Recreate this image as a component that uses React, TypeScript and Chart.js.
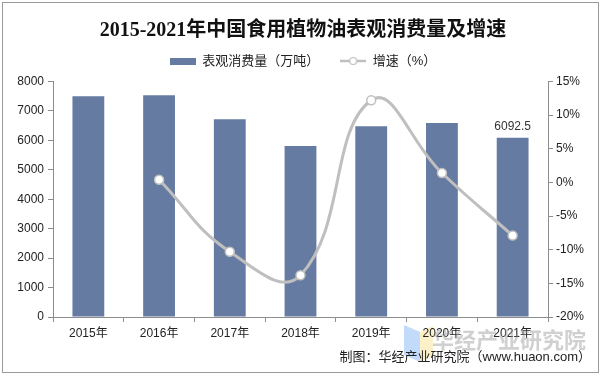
import React, { useEffect, useRef } from "react";
import { Chart, registerables } from "chart.js";

Chart.register(...registerables);

const categories = ["2015年", "2016年", "2017年", "2018年", "2019年", "2020年", "2021年"];
const consumption = [7500, 7530, 6720, 5810, 6480, 6590, 6092.5];
const growth = [null, 0.4, -10.3, -13.8, 12.2, 1.4, -7.9];
const leftAxis = { min: 0, max: 8000, step: 1000 };
const rightAxis = { min: -20, max: 15, step: 5 };
const titleText = "2015-2021年中国食用植物油表观消费量及增速";
const barLabel = "表观消费量（万吨）";
const lineLabel = "增速（%）";
const sourceText = "制图：华经产业研究院（www.huaon.com）";
const watermarkText = "华经产业研究院";

const BAR_COLOR = "#667ba1";
const LINE_COLOR = "#bfbfbf";
const AXIS_COLOR = "#8c8c8c";
const FONT = "'Liberation Sans', Arial, 'Noto Sans CJK SC', sans-serif";

function makeBarIcon() {
  const c = document.createElement("canvas");
  c.width = 26;
  c.height = 7;
  const ctx = c.getContext("2d")!;
  ctx.fillStyle = BAR_COLOR;
  ctx.fillRect(0, 0, 26, 7);
  return c;
}

function makeLineIcon() {
  const c = document.createElement("canvas");
  c.width = 26;
  c.height = 10;
  const ctx = c.getContext("2d")!;
  ctx.strokeStyle = LINE_COLOR;
  ctx.lineWidth = 2.5;
  ctx.beginPath();
  ctx.moveTo(0, 5);
  ctx.lineTo(26, 5);
  ctx.stroke();
  ctx.beginPath();
  ctx.arc(13, 5, 3.5, 0, Math.PI * 2);
  ctx.fillStyle = "#fff";
  ctx.fill();
  ctx.lineWidth = 1.2;
  ctx.stroke();
  return c;
}

const framePlugin = {
  id: "frame",
  beforeDraw(chart: any) {
    const ctx = chart.ctx;
    ctx.save();
    ctx.fillStyle = "#fff";
    ctx.fillRect(0, 0, chart.width, chart.height);
    ctx.strokeStyle = "#9a9a9a";
    ctx.lineWidth = 1;
    ctx.strokeRect(2.5, 2.5, 596, 370);
    // watermark logo
    ctx.globalAlpha = 0.55;
    ctx.fillStyle = "#8fbdf5";
    ctx.beginPath();
    ctx.moveTo(404, 325);
    ctx.lineTo(420, 332);
    ctx.lineTo(420, 362);
    ctx.lineTo(404, 355);
    ctx.closePath();
    ctx.fill();
    ctx.fillStyle = "#f7e39a";
    ctx.beginPath();
    ctx.moveTo(420, 332);
    ctx.lineTo(433, 326);
    ctx.lineTo(433, 356);
    ctx.lineTo(420, 362);
    ctx.closePath();
    ctx.fill();
    ctx.globalAlpha = 1;
    ctx.restore();
  },
  afterDraw(chart: any) {
    const ctx = chart.ctx;
    ctx.save();
    ctx.font = "bold 22px 'Noto Sans CJK SC', sans-serif";
    ctx.fillStyle = "rgba(150,150,150,0.45)";
    ctx.textAlign = "left";
    ctx.textBaseline = "middle";
    ctx.fillText(watermarkText, 432, 340);
    ctx.font = "13px " + FONT;
    ctx.fillStyle = "#222";
    ctx.textAlign = "right";
    ctx.fillText(sourceText, 591, 357);
    // data label on the last bar
    const meta = chart.getDatasetMeta(0);
    const last = meta.data[meta.data.length - 1];
    ctx.font = "12px " + FONT;
    ctx.fillStyle = "#333";
    ctx.textAlign = "center";
    ctx.textBaseline = "bottom";
    ctx.fillText(String(consumption[consumption.length - 1]), last.x, last.y - 5);
    ctx.restore();
  },
};

export default function App() {
  const ref = useRef<HTMLCanvasElement | null>(null);
  useEffect(() => {
    if (!ref.current) return;
    const barIcon = makeBarIcon();
    const lineIcon = makeLineIcon();
    const chart = new Chart(ref.current, {
      type: "bar",
      data: {
        labels: categories,
        datasets: [
          {
            type: "bar",
            label: barLabel,
            data: consumption,
            backgroundColor: BAR_COLOR,
            yAxisID: "y",
            barPercentage: 0.9,
            categoryPercentage: 0.5,
            order: 2,
          },
          {
            type: "line",
            label: lineLabel,
            data: growth as any,
            borderColor: LINE_COLOR,
            borderWidth: 3,
            tension: 0.45,
            pointRadius: 4.5,
            pointBackgroundColor: "#fff",
            pointBorderColor: LINE_COLOR,
            pointBorderWidth: 1.5,
            yAxisID: "y1",
            order: 1,
          },
        ],
      },
      options: {
        animation: false,
        responsive: false,
        maintainAspectRatio: false,
        layout: { padding: { left: 0, right: 0, top: 27.5, bottom: 0 } },
        plugins: {
          tooltip: { enabled: false },
          title: {
            display: true,
            text: titleText,
            color: "#111",
            font: { family: "'Liberation Serif', 'Noto Sans CJK SC', serif", size: 20, weight: "bold", lineHeight: 0.3 },
            padding: { top: 0, bottom: 0 },
          },
          subtitle: {
            display: true,
            text: "",
            weight: 500,
            font: { size: 4, lineHeight: 1 },
            padding: 0,
          } as any,
          legend: {
            display: true,
            labels: {
              usePointStyle: true,
              pointStyleWidth: 26,
              padding: 21,
              color: "#222",
              font: { family: FONT, size: 13 },
              generateLabels: () => [
                {
                  text: barLabel,
                  pointStyle: barIcon,
                  datasetIndex: 0,
                  fillStyle: BAR_COLOR,
                  strokeStyle: BAR_COLOR,
                  lineWidth: 0,
                  hidden: false,
                  fontColor: "#222",
                } as any,
                {
                  text: lineLabel,
                  pointStyle: lineIcon,
                  datasetIndex: 1,
                  fillStyle: "#fff",
                  strokeStyle: LINE_COLOR,
                  lineWidth: 0,
                  hidden: false,
                  fontColor: "#222",
                } as any,
              ],
            },
          },
        },
        scales: {
          x: {
            grid: {
              display: true,
              drawOnChartArea: false,
              drawTicks: true,
              tickLength: 5,
              color: AXIS_COLOR,
              offset: true,
            },
            border: { color: AXIS_COLOR },
            ticks: { color: "#222", font: { family: FONT, size: 12 }, padding: 4, maxRotation: 0 },
            afterFit: (s: any) => {
              s.height = 63;
            },
          },
          y: {
            position: "left",
            min: leftAxis.min,
            max: leftAxis.max,
            grid: { display: true, drawOnChartArea: false, drawTicks: true, tickLength: 5, color: AXIS_COLOR },
            border: { color: AXIS_COLOR },
            ticks: {
              stepSize: leftAxis.step,
              color: "#222",
              font: { family: FONT, size: 12 },
              padding: 4,
              callback: (v: any) => String(v),
            },
            afterFit: (s: any) => {
              s.width = 53;
            },
          },
          y1: {
            position: "right",
            min: rightAxis.min,
            max: rightAxis.max,
            grid: { display: true, drawOnChartArea: false, drawTicks: true, tickLength: 5, color: AXIS_COLOR },
            border: { color: AXIS_COLOR },
            ticks: {
              stepSize: rightAxis.step,
              color: "#222",
              font: { family: FONT, size: 12 },
              padding: 3,
              callback: (v: any) => v + "%",
            },
            afterFit: (s: any) => {
              s.width = 58;
            },
          },
        },
      },
      plugins: [framePlugin],
    });
    return () => chart.destroy();
  }, []);
  return (
    <div style={{ position: "fixed", left: 0, top: 0, width: 606, height: 380 }}>
      <canvas ref={ref} width={606} height={380} style={{ width: 606, height: 380 }} />
    </div>
  );
}
